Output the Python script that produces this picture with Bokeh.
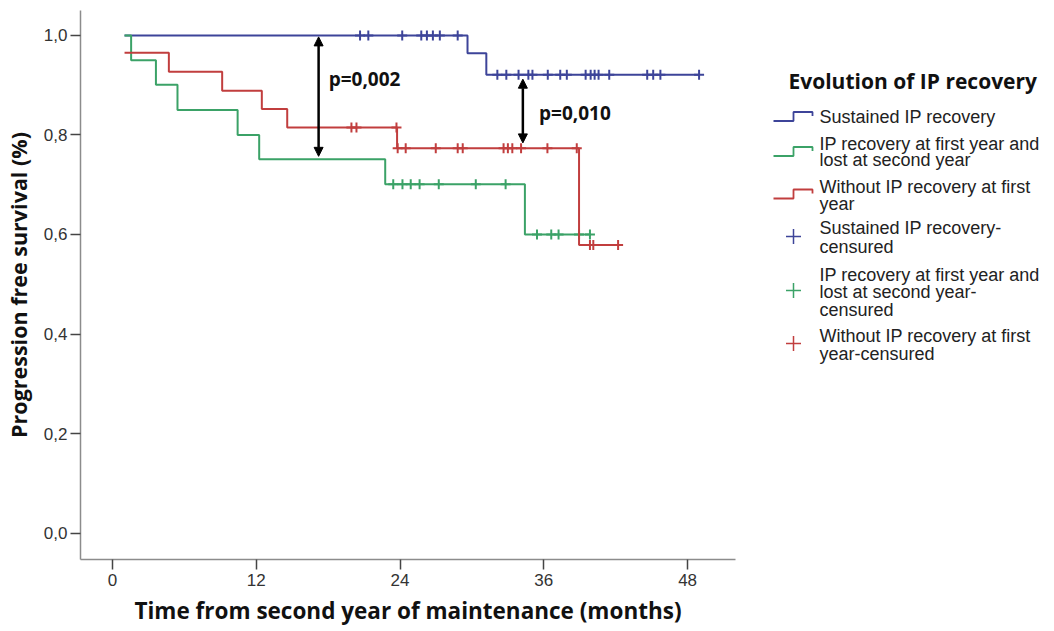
from bokeh.plotting import figure
from bokeh.models import Range1d, FixedTicker, Arrow, NormalHead, CustomJSTickFormatter
from bokeh.layouts import row
from bokeh.embed import file_html
from bokeh.resources import INLINE
from bokeh.core.properties import value

# ---------------- data (months, survival proportion) ----------------
series_names = ["Sustained IP recovery",
                "IP recovery at first year and lost at second year",
                "Without IP recovery at first year"]

blue_t = [1.0, 29.63, 31.2, 48.96]
blue_s = [1.0, 0.964, 0.921, 0.921]
green_t = [1.0, 1.55, 3.62, 5.42, 10.44, 12.24, 22.76, 34.42, 39.85]
green_s = [1.0, 0.950, 0.901, 0.850, 0.800, 0.751, 0.701, 0.600, 0.600]
red_t = [1.0, 4.70, 9.15, 12.46, 14.58, 23.75, 38.94, 42.2]
red_s = [0.965, 0.927, 0.889, 0.852, 0.815, 0.773, 0.579, 0.579]

blue_cens = [20.66, 21.35, 24.18, 25.77, 26.24, 26.74, 27.32, 28.81,
             32.12, 32.87, 33.89, 34.71, 35.05, 36.33, 37.37, 37.92, 39.49,
             39.91, 40.24, 40.57, 41.46, 44.63, 45.13, 45.73, 48.96]
green_cens = [23.43, 24.2, 24.89, 25.63, 27.23, 30.32, 32.81,
              35.43, 36.62, 37.23, 38.94, 39.85]
red_cens = [19.94, 20.36, 23.70, 23.80, 24.47, 26.98, 28.81, 29.23,
            32.64, 33.0, 33.37, 34.1, 36.3, 38.75, 39.85, 40.13, 42.2]

x_ticks = [0, 12, 24, 36, 48]
y_ticks = [0.0, 0.2, 0.4, 0.6, 0.8, 1.0]

# p-value annotations: (label, arrow x, arrow top, arrow bottom, label x, label y)
pvals = [("p=0,002", 17.2, 0.997, 0.757, 18.04, 0.912),
         ("p=0,010", 34.25, 0.912, 0.784, 35.6, 0.845)]

BLUE = "#3d4499"
GREEN = "#3ba267"
RED = "#c13e3e"


def level(ts, ss, t):
    val = ss[0]
    for ti, si in zip(ts, ss):
        if ti <= t:
            val = si
    return val


H = 630
p = figure(width=745, height=H, output_backend="svg", toolbar_location=None,
           x_range=Range1d(-2.676, 52.0), y_range=Range1d(-0.053, 1.050),
           min_border_left=75, min_border_right=10, min_border_top=10,
           min_border_bottom=H - 559)
p.outline_line_color = None
p.grid.visible = False
p.background_fill_color = "white"

for ts, ss, cens, col in [(blue_t, blue_s, blue_cens, BLUE),
                          (green_t, green_s, green_cens, GREEN),
                          (red_t, red_s, red_cens, RED)]:
    p.step(ts, ss, mode="after", line_color=col, line_width=2)
    cy = [level(ts, ss, c) for c in cens]
    p.scatter(cens, cy, marker="cross", size=10, line_color=col, line_width=2)

for lab, ax, atop, abot, lx, ly in pvals:
    p.add_layout(Arrow(x_start=ax, y_start=abot, x_end=ax, y_end=atop,
                       start=NormalHead(size=9, fill_color="black", line_color="black"),
                       end=NormalHead(size=9, fill_color="black", line_color="black"),
                       line_width=2.5, line_color="black"))
    p.text(x=[lx], y=[ly], text=[lab], text_font=value("Open Sans"),
           text_font_style="bold", text_font_size="19px",
           text_baseline="middle", text_align="left", text_color="#111111")

p.xaxis.ticker = FixedTicker(ticks=x_ticks)
p.yaxis.ticker = FixedTicker(ticks=y_ticks)
p.yaxis.formatter = CustomJSTickFormatter(code="return tick.toFixed(1).replace('.', ',');")
for ax in (p.xaxis, p.yaxis):
    ax.axis_line_color = "#8c8c8c"
    ax.axis_line_width = 1.5
    ax.major_tick_line_color = "#444444"
    ax.major_tick_line_width = 1.5
    ax.major_tick_out = 10
    ax.major_tick_in = 0
    ax.minor_tick_line_color = None
    ax.major_label_text_font = "Liberation Sans"
    ax.major_label_text_font_size = "17px"
    ax.major_label_text_color = "#333333"
    ax.axis_label_text_font = "Open Sans"
    ax.axis_label_text_font_style = "bold"
    ax.axis_label_text_color = "#111111"
p.xaxis.axis_label_text_font_size = "22.5px"
p.yaxis.axis_label_text_font_size = "21.5px"
p.xaxis.axis_label = "Time from second year of maintenance (months)"
p.yaxis.axis_label = "Progression free survival (%)"
p.yaxis.major_label_standoff = 3
p.xaxis.major_label_standoff = 4
p.yaxis.axis_label_standoff = 8
p.xaxis.axis_label_standoff = 6

# ---------------- legend panel (same frame borders as the plot) ----------------
LW = 305
lg = figure(width=LW, height=H, output_backend="svg", toolbar_location=None,
            x_range=Range1d(745, 745 + LW), y_range=Range1d(559, 10),
            x_axis_location=None, y_axis_location=None,
            min_border_left=0, min_border_right=0, min_border_top=10,
            min_border_bottom=H - 559)
lg.outline_line_color = None
lg.grid.visible = False

lg.text(x=[788], y=[80.7], text=["Evolution of IP recovery"], text_font=value("Open Sans"),
        text_font_style="bold", text_font_size="21px", text_baseline="middle",
        text_color="#111111")

item_lines = [
    ["Sustained IP recovery"],
    ["IP recovery at first year and", "lost at second year"],
    ["Without IP recovery at first", "year"],
    ["Sustained IP recovery-", "censured"],
    ["IP recovery at first year and", "lost at second year-", "censured"],
    ["Without IP recovery at first", "year-censured"],
]
item_line_y = [[116.7], [143.3, 159.6], [186.7, 203.3], [227.5, 246.0],
               [274.0, 291.5, 309.0], [335.5, 353.0]]
item_icon_y = [116.5, 151.5, 194.0, 236.0, 290.0, 343.0]
item_cols = [BLUE, GREEN, RED, BLUE, GREEN, RED]

tx, ty, tt = [], [], []
for lines, ys in zip(item_line_y and item_lines, item_line_y):
    for s, yy in zip(lines, ys):
        tx.append(819)
        ty.append(yy)
        tt.append(s)
lg.text(x=tx, y=ty, text=tt, text_font=value("Liberation Sans"), text_font_size="18px",
        text_baseline="middle", text_color="#222222")

for i in range(3):
    c = item_icon_y[i]
    lg.line([773, 793, 793, 812, 812], [c + 4, c + 4, c - 5, c - 5, c - 1],
            line_color=item_cols[i], line_width=1.8)
for i in range(3, 6):
    lg.scatter([793], [item_icon_y[i]], marker="cross", size=15,
               line_color=item_cols[i], line_width=1.5)

layout = row(p, lg)
open("out.html", "w").write(file_html(layout, INLINE))
